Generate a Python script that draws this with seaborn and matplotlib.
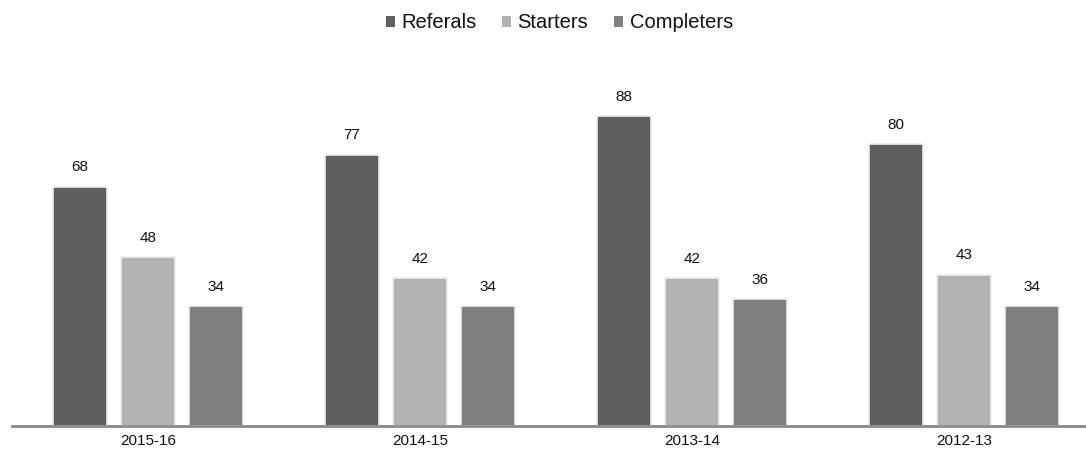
import matplotlib
matplotlib.use("Agg")
import matplotlib.pyplot as plt
import seaborn as sns
import pandas as pd
from matplotlib.patches import Patch

years = ["2015-16", "2014-15", "2013-14", "2012-13"]
series = ["Referals", "Starters", "Completers"]
referals = [68, 77, 88, 80]
starters = [48, 42, 42, 43]
completers = [34, 34, 36, 34]
colors = ["#5f5f5f", "#b2b2b2", "#808080"]

rows = []
for name, vals in zip(series, [referals, starters, completers]):
    for y, v in zip(years, vals):
        rows.append({"Year": y, "Series": name, "Value": v})
df = pd.DataFrame(rows)

sns.set_theme(style="white")
plt.rcParams["font.family"] = ["Liberation Sans", "DejaVu Sans"]

fig = plt.figure(figsize=(10.86, 4.5), dpi=100)
ax = fig.add_axes([12 / 1086, 24 / 450, 1088 / 1086, 352 / 450])

sns.barplot(data=df, x="Year", y="Value", hue="Series", order=years,
            hue_order=series, palette=colors, width=0.75, gap=0.22,
            edgecolor="#eeeeee", linewidth=1.2, ax=ax, legend=False,
            errorbar=None)

for cont in ax.containers:
    ax.bar_label(cont, fmt="%d", padding=9, fontsize=11, color="#111111")

ax.set_ylim(0, 100)
ax.set_xlim(-0.5, 3.5)
ax.set_xlabel("")
ax.set_ylabel("")
ax.set_yticks([])
for s in ["top", "right", "left"]:
    ax.spines[s].set_visible(False)
ax.spines["bottom"].set_color("#8a8a8a")
ax.spines["bottom"].set_linewidth(2)
ax.tick_params(axis="x", length=0, pad=6, labelsize=11, labelcolor="#111111")

handles = [Patch(facecolor=c, edgecolor="none") for c in colors]
fig.legend(handles, series, loc="center", bbox_to_anchor=(0.515, 1 - 23 / 450),
           ncol=3, frameon=False, fontsize=14.5, handlelength=0.45,
           handleheight=0.45, handletextpad=0.3, columnspacing=1.3,
           labelcolor="#111111")

fig.savefig("out.png", dpi=100)
